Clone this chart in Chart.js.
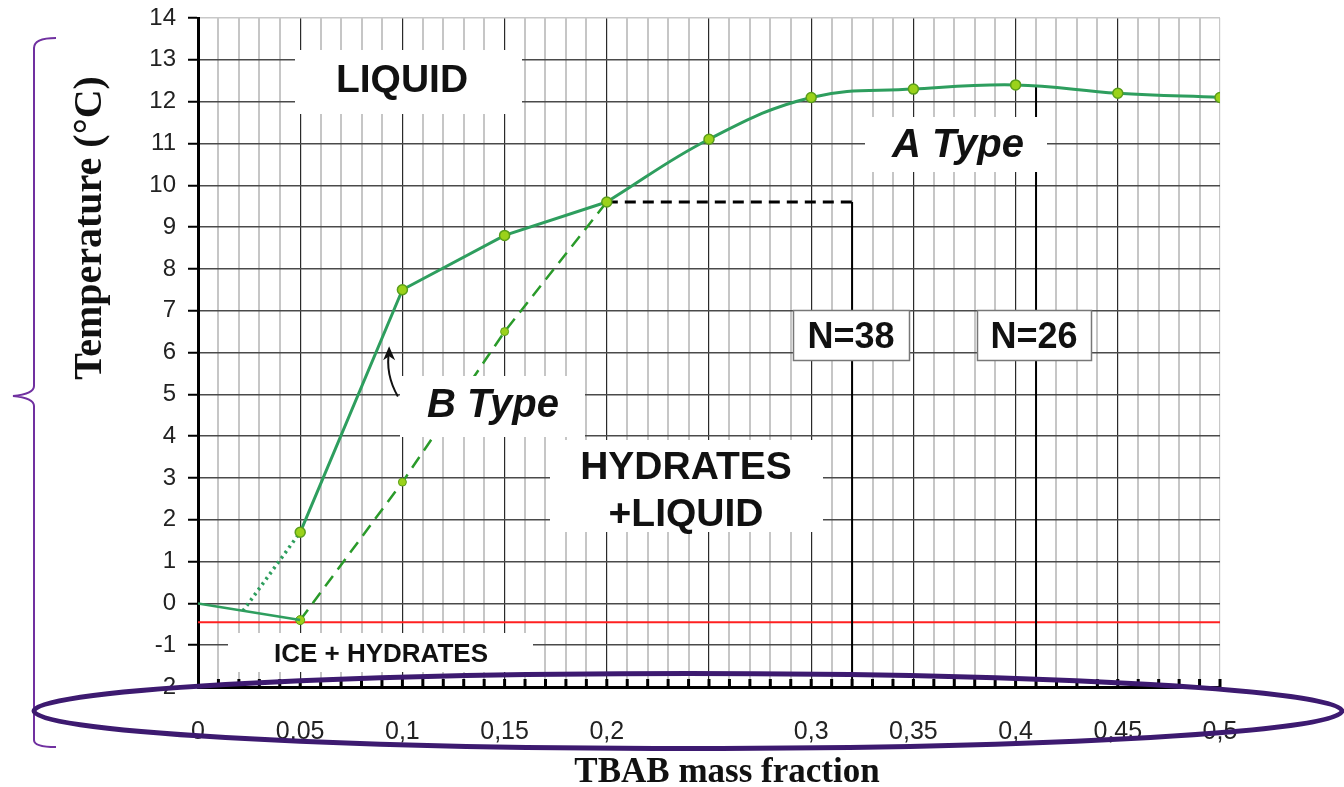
<!DOCTYPE html>
<html>
<head>
<meta charset="utf-8">
<script src="https://cdn.jsdelivr.net/npm/chart.js@4"></script>
<style>
  body { margin: 0; background: #fff; }
  #wrap { width: 1344px; height: 787px; position: relative; }
</style>
</head>
<body>
<div id="wrap"><canvas id="c"></canvas></div>
<script>
// TBAB phase diagram values
const iceX = [0, 0.05];
const iceT = [0, -0.4];
const dotX = [0.022, 0.05];
const dotT = [-0.18, 1.7];
const bTypeX = [0.05, 0.1, 0.15, 0.2];
const bTypeT = [1.7, 7.5, 8.8, 9.6];
const bMetaX = [0.05, 0.1, 0.15, 0.2];
const bMetaT = [-0.4, 2.9, 6.5, 9.6];
const aTypeX = [0.2, 0.25, 0.3, 0.35, 0.4, 0.45, 0.5];
const aTypeT = [9.6, 11.1, 12.1, 12.3, 12.4, 12.2, 12.1];
const eutecticT = -0.45;
const n38X = 0.32, n38T = 9.6;
const n26X = 0.41, n26T = 12.35;
const hiddenXLabels = [25];

const pts = (xs, ys) => xs.map((x, i) => ({ x: x, y: ys[i] }));

const seaGreen = '#2e9e5e';
const dashGreen = '#2a9a2a';
const markFill = '#9bd21a';
const markEdge = '#5a9e1a';

// white label boxes [x0, y0, x1, y1] in pixels, text drawn on top
const boxes = [
  { r: [295, 50, 522, 114] },
  { r: [865, 117, 1047, 172] },
  { r: [400, 376, 585, 437] },
  { r: [550, 440, 823, 532] },
  { r: [228, 633, 533, 672] },
  { r: [793, 310, 910, 361], border: true },
  { r: [977, 310, 1092, 361], border: true }
];
const texts = [
  { t: 'LIQUID', x: 402, y: 92, f: 'bold 39px "Liberation Sans", Arial' },
  { t: 'A Type', x: 958, y: 157, f: 'italic bold 40px "Liberation Sans", Arial' },
  { t: 'B Type', x: 493, y: 417, f: 'italic bold 40px "Liberation Sans", Arial' },
  { t: 'HYDRATES', x: 686, y: 479, f: 'bold 39px "Liberation Sans", Arial' },
  { t: '+LIQUID', x: 686, y: 526, f: 'bold 39px "Liberation Sans", Arial' },
  { t: 'ICE + HYDRATES', x: 381, y: 662, f: 'bold 26px "Liberation Sans", Arial' },
  { t: 'N=38', x: 851, y: 348, f: 'bold 36px "Liberation Sans", Arial' },
  { t: 'N=26', x: 1034, y: 348, f: 'bold 36px "Liberation Sans", Arial' }
];

const overlay = {
  id: 'overlay',
  beforeDatasetsDraw(chart) {
    const { ctx, chartArea, scales } = chart;
    // small inner ticks on the bottom axis
    ctx.save();
    ctx.strokeStyle = '#000';
    ctx.lineWidth = 3;
    for (let k = 1; k <= 50; k++) {
      const px = scales.x.getPixelForValue(k / 100);
      ctx.beginPath();
      ctx.moveTo(px, chartArea.bottom);
      ctx.lineTo(px, chartArea.bottom - 8);
      ctx.stroke();
    }
    ctx.restore();
  },
  afterDatasetsDraw(chart) {
    const { ctx, scales } = chart;
    ctx.save();
    boxes.forEach(b => {
      const [x0, y0, x1, y1] = b.r;
      ctx.fillStyle = '#fff';
      ctx.fillRect(x0, y0, x1 - x0, y1 - y0);
      if (b.border) {
        ctx.strokeStyle = '#777';
        ctx.lineWidth = 1.5;
        ctx.strokeRect(x0 + 0.5, y0 + 0.5, x1 - x0 - 1, y1 - y0 - 1);
      }
    });
    ctx.fillStyle = '#111';
    ctx.textAlign = 'center';
    ctx.textBaseline = 'alphabetic';
    texts.forEach(o => {
      ctx.font = o.f;
      ctx.fillText(o.t, o.x, o.y);
    });
    // curved arrow pointing at the B type curve
    const X = v => scales.x.getPixelForValue(v);
    const Y = v => scales.y.getPixelForValue(v);
    const tx = X(0.0935), ty = Y(6.15);
    const sx = X(0.0978), sy = Y(4.95);
    ctx.strokeStyle = '#111';
    ctx.lineWidth = 2;
    ctx.beginPath();
    ctx.moveTo(sx, sy);
    ctx.quadraticCurveTo(tx - 4, sy - 22, tx, ty + 4);
    ctx.stroke();
    ctx.fillStyle = '#111';
    ctx.beginPath();
    ctx.moveTo(tx, ty);
    ctx.lineTo(tx - 6, ty + 14);
    ctx.lineTo(tx, ty + 10);
    ctx.lineTo(tx + 6, ty + 14);
    ctx.closePath();
    ctx.fill();
    ctx.restore();
  },
  afterDraw(chart) {
    const { ctx } = chart;
    ctx.save();
    // axis titles
    ctx.fillStyle = '#111';
    ctx.textAlign = 'center';
    ctx.textBaseline = 'alphabetic';
    ctx.font = 'bold 35px "Liberation Serif", "Times New Roman", serif';
    ctx.fillText('TBAB mass fraction', 727, 782);
    ctx.translate(101, 228);
    ctx.rotate(-Math.PI / 2);
    ctx.font = 'bold 40px "Liberation Serif", "Times New Roman", serif';
    ctx.fillText('Temperature (°C)', 0, 0);
    ctx.restore();

    // purple brace on the left
    ctx.save();
    ctx.strokeStyle = '#7030a0';
    ctx.lineWidth = 2;
    ctx.beginPath();
    ctx.moveTo(56, 38);
    ctx.quadraticCurveTo(34, 38, 34, 48);
    ctx.lineTo(34, 386);
    ctx.quadraticCurveTo(34, 394, 13, 396);
    ctx.quadraticCurveTo(34, 398, 34, 406);
    ctx.lineTo(34, 740);
    ctx.quadraticCurveTo(34, 747, 56, 747);
    ctx.stroke();

    // ellipse round the x tick labels
    ctx.strokeStyle = '#3d1a70';
    ctx.lineWidth = 5;
    ctx.beginPath();
    ctx.ellipse(688, 711, 654, 37.5, 0, 0, Math.PI * 2);
    ctx.stroke();
    ctx.restore();
  }
};

new Chart(document.getElementById('c'), {
  type: 'scatter',
  data: {
    datasets: [
      {
        data: pts(aTypeX, aTypeT), showLine: true, tension: 0.4,
        borderColor: seaGreen, borderWidth: 3,
        pointRadius: 5, pointBackgroundColor: markFill, pointBorderColor: markEdge, pointBorderWidth: 1.5
      },
      {
        data: pts(bTypeX, bTypeT), showLine: true, tension: 0,
        borderColor: seaGreen, borderWidth: 3,
        pointRadius: [5, 5, 5, 0], pointBackgroundColor: markFill, pointBorderColor: markEdge, pointBorderWidth: 1.5
      },
      {
        data: pts(iceX, iceT), showLine: true, tension: 0,
        borderColor: seaGreen, borderWidth: 2.5, pointRadius: 0
      },
      {
        data: pts(dotX, dotT), showLine: true, tension: 0,
        borderColor: seaGreen, borderWidth: 3.5, borderDash: [2.5, 4], pointRadius: 0
      },
      {
        data: pts(bMetaX, bMetaT), showLine: true, tension: 0,
        borderColor: dashGreen, borderWidth: 2.5, borderDash: [13, 8],
        pointRadius: [4.5, 4, 4, 0], pointBackgroundColor: markFill, pointBorderColor: markEdge, pointBorderWidth: 1
      },
      {
        data: [{ x: 0.2, y: n38T }, { x: n38X, y: n38T }], showLine: true,
        borderColor: '#000', borderWidth: 3, borderDash: [11, 7], pointRadius: 0
      },
      {
        data: [{ x: n38X, y: n38T }, { x: n38X, y: -2 }], showLine: true,
        borderColor: '#000', borderWidth: 2, pointRadius: 0
      },
      {
        data: [{ x: n26X, y: n26T }, { x: n26X, y: -2 }], showLine: true,
        borderColor: '#000', borderWidth: 2, pointRadius: 0
      },
      {
        data: [{ x: 0, y: eutecticT }, { x: 0.5, y: eutecticT }], showLine: true,
        borderColor: '#ff2020', borderWidth: 2, pointRadius: 0
      }
    ]
  },
  options: {
    responsive: true,
    maintainAspectRatio: false,
    animation: false,
    layout: { padding: { top: 18, right: 124, left: 0, bottom: 0 } },
    plugins: { legend: { display: false }, tooltip: { enabled: false } },
    scales: {
      x: {
        type: 'linear', min: 0, max: 0.5,
        afterFit: s => { s.height = 100; s.paddingLeft = 0; s.paddingRight = 0; },
        border: { color: '#000', width: 3 },
        grid: {
          drawTicks: false,
          color: c => {
            const k = Math.round(c.tick.value * 100);
            if (k === 50) return '#c8c8c8';
            return k % 5 === 0 ? '#2a2a2a' : '#c6c6c6';
          },
          lineWidth: c => (Math.round(c.tick.value * 100) % 5 === 0 ? 1.2 : 2)
        },
        ticks: {
          stepSize: 0.01, autoSkip: false, maxRotation: 0, padding: 30,
          color: '#222', font: { family: '"Liberation Sans", Arial', size: 25 },
          callback: v => {
            const k = Math.round(v * 100);
            if (k % 5 !== 0 || hiddenXLabels.includes(k)) return '';
            return String(k / 100).replace('.', ',');
          }
        }
      },
      y: {
        min: -2, max: 14,
        afterFit: s => { s.width = 198; s.paddingTop = 0; s.paddingBottom = 0; },
        border: { color: '#000', width: 3 },
        grid: {
          color: c => (c.tick.value === 14 ? '#c8c8c8' : '#4a4a4a'),
          lineWidth: 1.5, tickLength: 10, tickColor: '#000', tickWidth: 2
        },
        ticks: {
          stepSize: 1, padding: 12,
          color: '#222', font: { family: '"Liberation Sans", Arial', size: 24 }
        }
      }
    }
  },
  plugins: [overlay]
});
</script>
</body>
</html>
